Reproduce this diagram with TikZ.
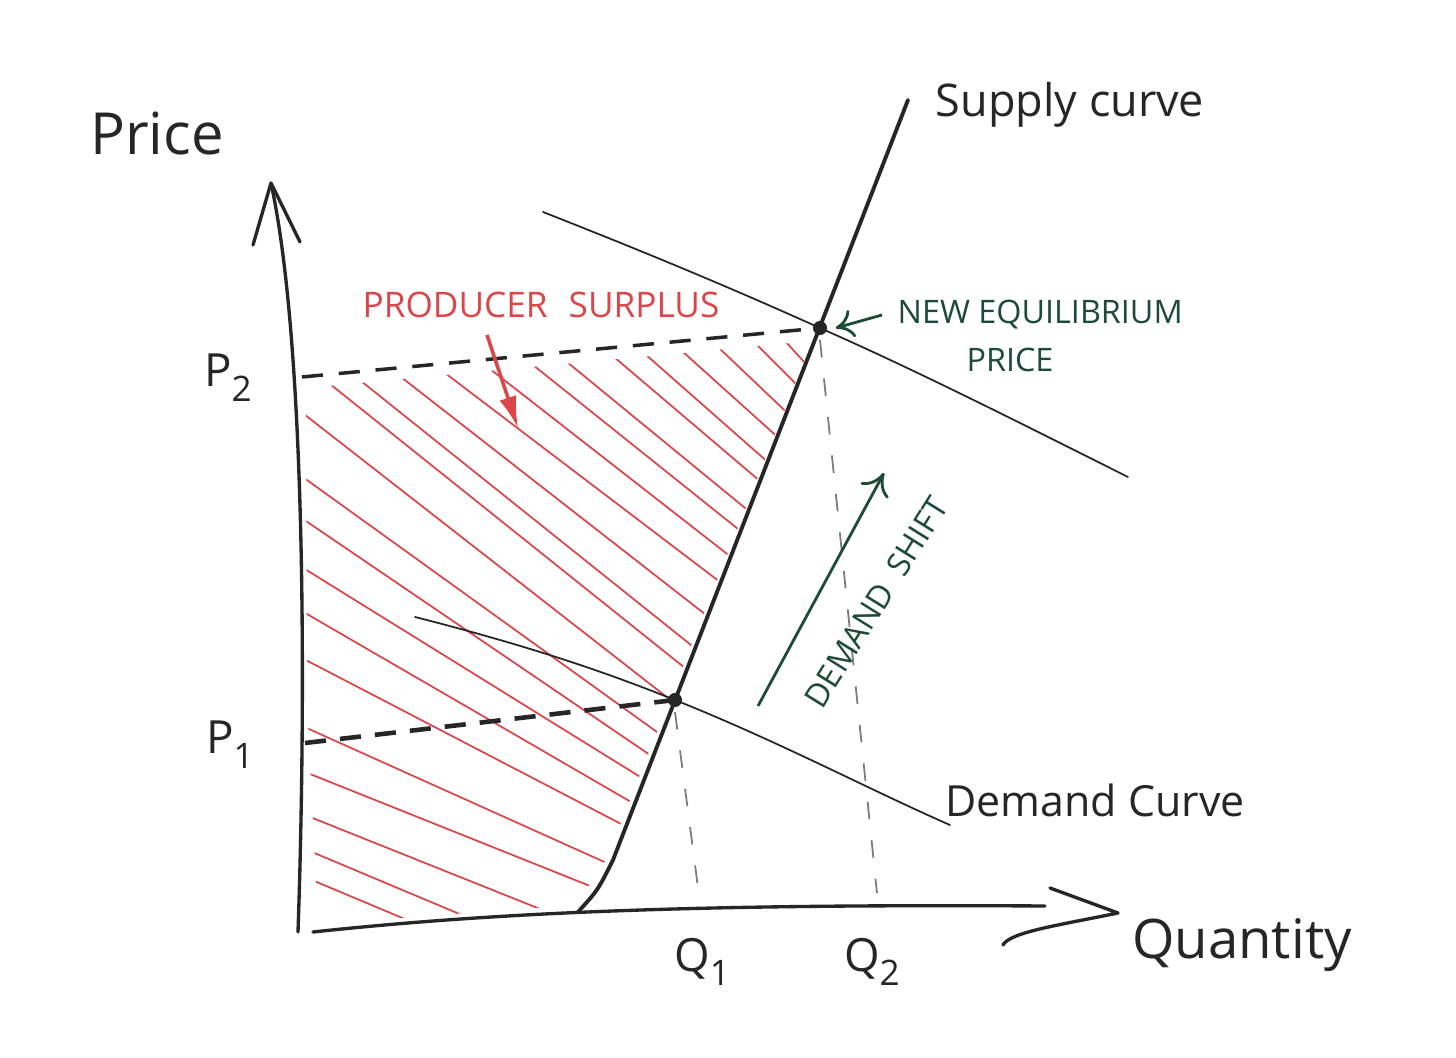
\documentclass[tikz,border=0pt]{standalone}
\usepackage{fontspec}
\setmainfont{Open Sans}
\usetikzlibrary{arrows.meta}
\definecolor{ink}{HTML}{262626}
\definecolor{redink}{HTML}{D9474A}
\definecolor{greenink}{HTML}{1E4A38}
\definecolor{greyink}{HTML}{7A7A7A}
\begin{document}
\begin{tikzpicture}[x=0.01cm,y=-0.01cm,
  axis/.style={ink,line width=0.95pt,line cap=round,line join=round},
  supplyline/.style={ink,line width=1.1pt,line cap=round},
  demandline/.style={ink,line width=0.5pt,line cap=round},
  hatchline/.style={redink,line width=0.5pt,line cap=round},
  pricedash/.style={ink,line width=1pt,dash pattern=on 6pt off 4.5pt},
  qtydash/.style={greyink,line width=0.5pt,dash pattern=on 5pt off 6pt},
  eqdot/.style={circle,fill=ink,inner sep=0pt,minimum size=4pt},
  lbl/.style={ink,inner sep=0pt},
  redlbl/.style={redink,inner sep=0pt},
  greenlbl/.style={greenink,inner sep=0pt}]
\useasboundingbox[fill=white] (0,0) rectangle (1456,1058);

% key points
\coordinate (E1) at (675,700);
\coordinate (E2) at (820,328);

% hatching (producer surplus)
\begin{scope}
  \clip (306,388) -- (812,341) -- (607,858) -- (576,905) -- (318,924) -- (307,700) -- cycle;
  \foreach \x/\y/\s in {330/384/0.8,361/381/0.8,401/377/0.78,445/373/0.76,490/369/0.78,
      533/365/0.8,567/362/0.82,614/357/0.85,645/354/0.88,682/351/0.9,719/348/0.95,
      756/344/1.0,785/341/1.1,
      300/411/0.78,300/475/0.72,300/517/0.68,300/566/0.62,300/610/0.58,300/657/0.52,
      300/725/0.45,300/770/0.4,300/813/0.4,300/847/0.42,300/875/0.42}
    \draw[hatchline] (\x,\y) -- ++(600,600*\s);
\end{scope}

% axes
\draw[axis] (298,932) .. controls (306,700) and (306,350) .. (272,188);
\draw[axis] (253,245) -- (271,183) -- (300,242);
\draw[axis] (313,932) .. controls (500,912) and (700,904) .. (1045,906);
\draw[axis] (1050,888) -- (1118,913) .. controls (1060,925) and (1010,932) .. (1003,945);

% dashed guides
\draw[pricedash] (302,377) -- (E2);
\draw[pricedash,line width=1.3pt,dash pattern=on 6pt off 4pt] (305,743) -- (E1);
\draw[qtydash] ([yshift=-0.12cm]E1) -- (700,903);
\draw[qtydash] ([yshift=-0.12cm]E2) -- (877,893);

% curves
\draw[supplyline] (578,912) .. controls (598,890) .. (613,860) -- (908,100);
\draw[demandline] (415,617) .. controls (545,650) and (620,678) .. (E1)
                   .. controls (780,742) and (870,790) .. (950,825);
\draw[demandline] (543,212) .. controls (660,258) and (740,292) .. (E2)
                   .. controls (920,372) and (1030,428) .. (1128,477);

\node[eqdot] (d1) at (E1) {};
\node[eqdot] (d2) at (E2) {};

% labels
\node[lbl,font=\fontsize{16.5}{16.5}\selectfont] (price) at (157,133) {Price};
\node[lbl,font=\fontsize{15.5}{15.5}\selectfont] (qty) at (1242,945) {Quantity};
\node[lbl,font=\fontsize{12.8}{12.8}\selectfont] (supply) at (1070,105) {Supply curve};
\node[lbl,font=\fontsize{12.2}{12.2}\selectfont] (demand) at (1095,800) {Demand Curve};
\node[lbl,font=\fontsize{13}{13}\selectfont] (p2) at (228,378) {P\raisebox{-0.6ex}{\fontsize{10}{10}\selectfont 2}};
\node[lbl,font=\fontsize{13}{13}\selectfont] (p1) at (230,745) {P\raisebox{-0.6ex}{\fontsize{10}{10}\selectfont 1}};
\node[lbl,font=\fontsize{13}{13}\selectfont] (q1) at (702,962) {Q\raisebox{-0.6ex}{\fontsize{10}{10}\selectfont 1}};
\node[lbl,font=\fontsize{13}{13}\selectfont] (q2) at (872,962) {Q\raisebox{-0.6ex}{\fontsize{10}{10}\selectfont 2}};

\node[redlbl,font=\fontsize{10}{10}\selectfont] (ps) at (541,305) {PRODUCER\hspace{0.6em}SURPLUS};
\coordinate (psa) at (487,335);
\draw[redink,line width=1pt,-{Latex[length=9pt,width=5pt]}] (psa) -- (518,428);

\node[greenlbl,font=\fontsize{9.2}{9.2}\selectfont,anchor=west] (neq) at (897,315) {NEW EQUILIBRIUM};
\node[greenlbl,font=\fontsize{9.2}{9.2}\selectfont] (neqp) at (1010,360) {PRICE};
\draw[greenink,line width=0.8pt,-{To[length=5pt,width=8pt]}] ([xshift=-0.15cm]neq.west) -- ([xshift=0.08cm]d2.east);

\coordinate (dsa) at (758,706);
\coordinate (dsb) at (884,473);
\draw[greenink,line width=0.8pt,-{To[length=6pt,width=9pt]}] (dsa) -- (dsb);
\node[greenlbl,font=\fontsize{9.2}{9.2}\selectfont,rotate=58] (ds) at (876,602) {DEMAND\hspace{0.5em}SHIFT};
\end{tikzpicture}
\end{document}
